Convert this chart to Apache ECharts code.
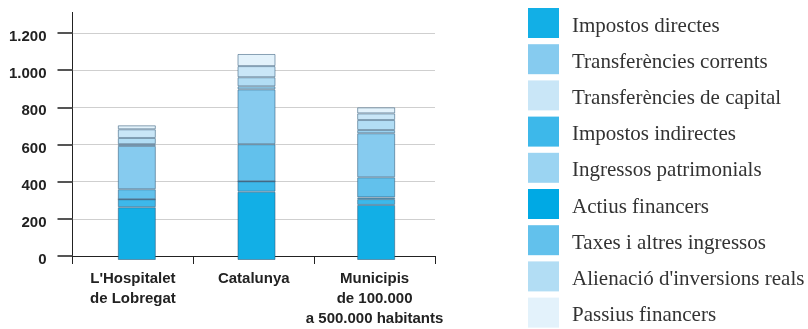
<!DOCTYPE html>
<html>
<head>
<meta charset="utf-8">
<script src="https://cdn.jsdelivr.net/npm/echarts@6/dist/echarts.min.js"></script>
<style>
  html, body { margin: 0; padding: 0; background: #fff; overflow: hidden; }
  #chart { width: 808px; height: 329px; }
</style>
</head>
<body>
<div id="chart"></div>
<script>
// Categories (x axis)
const categories = ["L'Hospitalet\nde Lobregat", "Catalunya", "Municipis\nde 100.000\na 500.000 habitants"];

// Income per inhabitant, by source (euros)
const impostosDirectes      = [279, 361, 291];
const impostosIndirectes    = [42, 55, 31];
const actiusFinancers       = [0, 0, 9];
const taxes                 = [53, 196, 106];
const transferenciesCorrents = [229, 290, 233];
const ingressosPatrimonials = [9, 16, 17];
const alienacio             = [33, 48, 53];
const transferenciesCapital = [46, 59, 35];
const passiusFinancers      = [21, 64, 32];

// Y axis ticks
const yTicks = [0, 200, 400, 600, 800, 1000, 1200];

// Stacking order, bottom to top
const stackSeries = [
  { name: 'Impostos directes', data: impostosDirectes, color: '#12afe6' },
  { name: 'Impostos indirectes', data: impostosIndirectes, color: '#3db8ea' },
  { name: 'Actius financers', data: actiusFinancers, color: '#00a9e4' },
  { name: 'Taxes i altres ingressos', data: taxes, color: '#62c1ec' },
  { name: 'Transferències corrents', data: transferenciesCorrents, color: '#86cbef' },
  { name: 'Ingressos patrimonials', data: ingressosPatrimonials, color: '#9bd4f2' },
  { name: "Alienació d'inversions reals", data: alienacio, color: '#b2ddf4' },
  { name: 'Transferències de capital', data: transferenciesCapital, color: '#c9e6f7' },
  { name: 'Passius financers', data: passiusFinancers, color: '#e3f2fb' }
];

// Legend order
const legendOrder = [
  'Impostos directes', 'Transferències corrents', 'Transferències de capital',
  'Impostos indirectes', 'Ingressos patrimonials', 'Actius financers',
  'Taxes i altres ingressos', "Alienació d'inversions reals", 'Passius financers'
];

const fmt = v => String(v).replace(/\B(?=(\d{3})+(?!\d))/g, '.');
const yMin = yTicks[0], yMax = yTicks[yTicks.length - 1], yStep = yTicks[1] - yTicks[0];

const chart = echarts.init(document.getElementById('chart'), null, { renderer: 'canvas' });

chart.setOption({
  animation: false,
  backgroundColor: '#fff',
  grid: [
    // axes, ticks and labels
    { left: 72.5, width: 362.5, top: 33, height: 227, containLabel: false },
    // bars (slightly right of the category ticks)
    { left: 77, width: 359, top: 33, height: 227, containLabel: false }
  ],
  legend: {
    orient: 'vertical',
    left: 528,
    top: 8,
    padding: 0,
    height: 325,
    itemWidth: 31,
    itemHeight: 30,
    itemGap: 6.2,
    icon: 'rect',
    data: legendOrder,
    selectedMode: false,
    itemStyle: { borderWidth: 0 },
    formatter: name => '{t|' + name + '}',
    textStyle: {
      rich: {
        t: {
          fontFamily: 'Liberation Serif, DejaVu Serif, serif',
          fontSize: 21,
          color: '#333',
          padding: [6, 0, 0, 8]
        }
      }
    }
  },
  xAxis: [
    {
      type: 'category',
      gridIndex: 0,
      data: categories,
      axisLine: { lineStyle: { color: '#222', width: 1 } },
      axisTick: { show: true, length: 8, lineStyle: { color: '#222' } },
      axisLabel: {
        interval: 0,
        margin: 13,
        fontFamily: 'Liberation Sans, Arial, sans-serif',
        fontWeight: 'bold',
        fontSize: 15,
        lineHeight: 20,
        color: '#222'
      }
    },
    { type: 'category', gridIndex: 1, data: categories, show: false }
  ],
  yAxis: [
    {
      type: 'value',
      gridIndex: 0,
      min: yMin,
      max: yMax,
      interval: yStep,
      axisLine: { show: true, lineStyle: { color: '#222', width: 1 } },
      axisTick: { show: true, length: 15, lineStyle: { color: '#555', width: 2 } },
      splitLine: { show: true, lineStyle: { color: '#cfcfcf', width: 1 } },
      axisLabel: {
        margin: 26,
        formatter: v => '{v|' + fmt(v) + '}',
        rich: {
          v: {
            fontFamily: 'Liberation Sans, Arial, sans-serif',
            fontWeight: 'bold',
            fontSize: 15,
            color: '#222',
            padding: [8, 0, 0, 0]
          }
        }
      }
    },
    { type: 'value', gridIndex: 1, min: yMin, max: yMax, interval: yStep, show: false }
  ],
  graphic: [
    { type: 'line', shape: { x1: 72.5, y1: 12, x2: 72.5, y2: 33 }, style: { stroke: '#222', lineWidth: 1 }, silent: true }
  ],
  series: stackSeries.map(s => ({
    name: s.name,
    type: 'bar',
    xAxisIndex: 1,
    yAxisIndex: 1,
    stack: 'total',
    barWidth: 38,
    data: s.data,
    itemStyle: { color: s.color, borderColor: 'rgba(50,90,120,0.55)', borderWidth: 1 },
    emphasis: { disabled: true }
  }))
});
</script>
</body>
</html>
